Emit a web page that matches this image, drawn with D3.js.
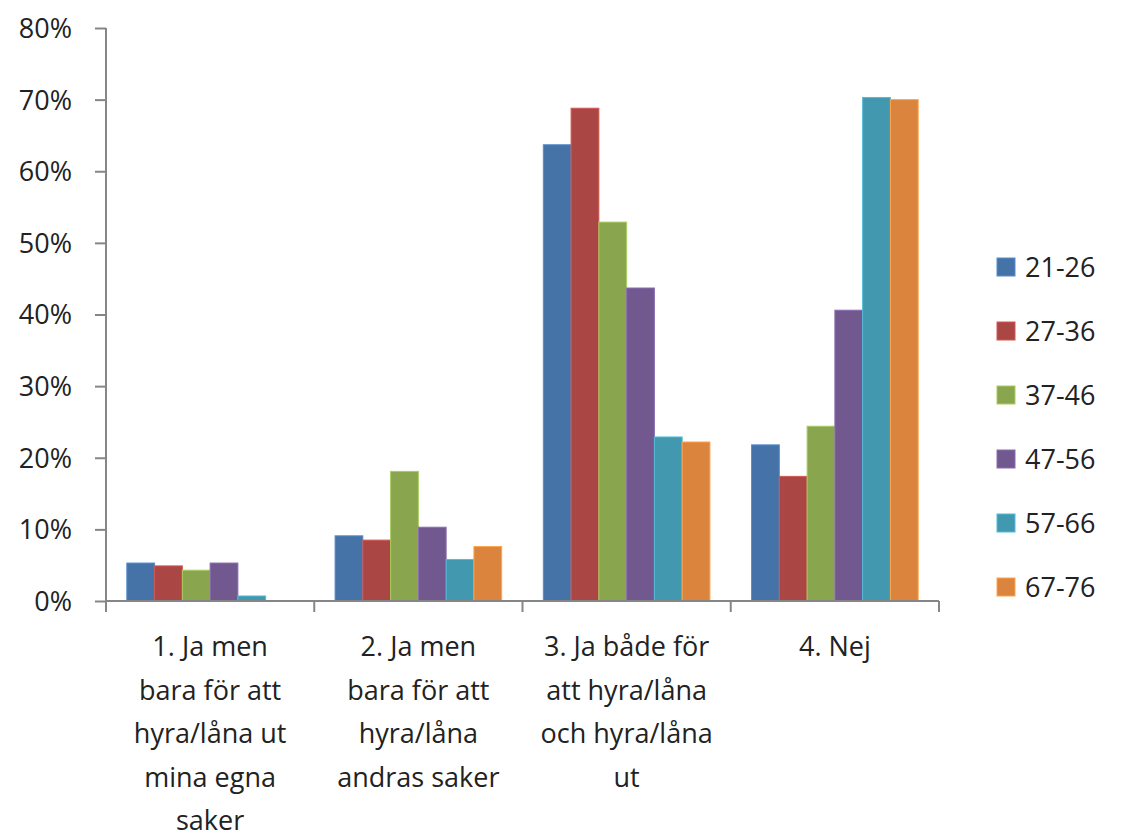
<!DOCTYPE html>
<html>
<head>
<meta charset="utf-8">
<script src="https://cdn.jsdelivr.net/npm/d3@7"></script>
<style>
  body { margin: 0; background: #fff; }
  text { font-family: "Open Sans", sans-serif; fill: #222; }
</style>
</head>
<body>
<svg id="chart" width="1125" height="836"></svg>
<script>
// categories (one text line per array entry)
var categories = [
  ["1. Ja men", "bara för att", "hyra/låna ut", "mina egna", "saker"],
  ["2. Ja men", "bara för att", "hyra/låna", "andras saker"],
  ["3. Ja både för", "att hyra/låna", "och hyra/låna", "ut"],
  ["4. Nej"]
];
var series = ["21-26", "27-36", "37-46", "47-56", "57-66", "67-76"];
var colors = ["#4572A7", "#AA4643", "#89A54E", "#71588F", "#4198AF", "#DB843D"];

// values in percent, one array per age group, per category
var v2126 = [5.3, 9.1, 63.7, 21.8];
var v2736 = [4.9, 8.5, 68.8, 17.4];
var v3746 = [4.3, 18.1, 52.9, 24.4];
var v4756 = [5.3, 10.3, 43.7, 40.6];
var v5766 = [0.7, 5.8, 22.9, 70.3];
var v6776 = [0, 7.6, 22.2, 70.0];
var values = [v2126, v2736, v3746, v4756, v5766, v6776];

var yTicks = [0, 10, 20, 30, 40, 50, 60, 70, 80];

(function() {
  var svg = d3.select("#chart");
  var left = 106, right = 939, plotTop = 28, bottom = 601;

  var x = d3.scaleBand()
    .domain(d3.range(categories.length))
    .range([left, right]);

  var bw = x.bandwidth() / 7.5;
  var xs = d3.scaleBand()
    .domain(d3.range(series.length))
    .range([0.75 * bw, 0.75 * bw + 6 * bw]);

  var y = d3.scaleLinear().domain([0, 80]).range([bottom, plotTop]);

  // bars
  series.forEach(function(s, i) {
    svg.append("g")
      .selectAll("rect")
      .data(values[i])
      .enter().append("rect")
      .attr("x", function(d, j) { return x(j) + xs(i); })
      .attr("y", function(d) { return y(d); })
      .attr("width", xs.bandwidth())
      .attr("height", function(d) { return bottom - y(d); })
      .attr("fill", colors[i])
      .attr("stroke", d3.color(colors[i]).brighter(0.6))
      .attr("stroke-width", 1);
  });

  // y axis
  var yAxis = svg.append("g")
    .attr("transform", "translate(" + left + ",0)")
    .call(d3.axisLeft(y).tickValues(yTicks).tickSize(11).tickPadding(0)
      .tickFormat(function(d) { return d + "%"; }));
  yAxis.selectAll("path, line").attr("stroke", "#868686").attr("stroke-width", 2);
  yAxis.select(".domain").attr("d", "M0," + bottom + "V" + plotTop);
  yAxis.selectAll("text")
    .attr("x", -34)
    .attr("dy", "0.35em")
    .style("font-family", "'Open Sans', sans-serif")
    .style("font-size", "27px")
    .attr("fill", "#222");

  // x axis
  var xAxis = svg.append("g")
    .attr("transform", "translate(0," + bottom + ")");
  xAxis.append("line")
    .attr("x1", left).attr("x2", right)
    .attr("stroke", "#868686").attr("stroke-width", 2);
  var bounds = d3.range(categories.length + 1).map(function(i) {
    return i < categories.length ? x(i) : right;
  });
  xAxis.selectAll(".tick")
    .data(bounds)
    .enter().append("line")
    .attr("x1", function(d) { return d; })
    .attr("x2", function(d) { return d; })
    .attr("y1", 0).attr("y2", 11)
    .attr("stroke", "#868686").attr("stroke-width", 2);

  // category labels
  categories.forEach(function(lines, j) {
    var t = svg.append("text")
      .attr("text-anchor", "middle")
      .attr("font-size", "27px")
      .attr("transform", "translate(" + (x(j) + x.bandwidth() / 2) + ",656)");
    lines.forEach(function(l, k) {
      t.append("tspan").attr("x", 0).attr("y", k * 43.6).text(l);
    });
  });

  // legend
  var legend = svg.append("g").selectAll("g")
    .data(series)
    .enter().append("g")
    .attr("transform", function(d, i) { return "translate(997," + (267 + i * 64) + ")"; });
  legend.append("rect")
    .attr("x", 0).attr("y", -9)
    .attr("width", 18).attr("height", 18)
    .attr("fill", function(d, i) { return colors[i]; })
    .attr("stroke", function(d, i) { return d3.color(colors[i]).brighter(0.6); });
  legend.append("text")
    .attr("x", 28).attr("dy", "0.36em")
    .attr("font-size", "27px")
    .text(function(d) { return d; });
})();
</script>
</body>
</html>
